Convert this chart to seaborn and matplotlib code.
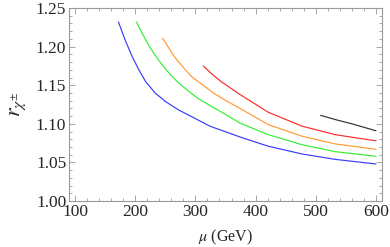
import numpy as np
import pandas as pd
import matplotlib
matplotlib.use("Agg")
import matplotlib.pyplot as plt
from matplotlib.ticker import MultipleLocator
import seaborn as sns

# values
mu_blue = [172, 184, 195, 206, 217, 233, 250, 272, 297, 324, 374, 421, 477, 532, 600]
r_blue = [1.232, 1.207, 1.187, 1.170, 1.155, 1.140, 1.129, 1.118, 1.108, 1.097, 1.083, 1.071, 1.061, 1.054, 1.048]
mu_green = [202, 211, 222, 233, 245, 258, 272, 289, 306, 328, 344, 374, 421, 477, 532, 600]
r_green = [1.232, 1.218, 1.202, 1.189, 1.176, 1.164, 1.153, 1.142, 1.132, 1.122, 1.115, 1.101, 1.086, 1.073, 1.064, 1.058]
mu_orange = [245, 256, 267, 281, 294, 311, 328, 344, 374, 421, 477, 532, 600]
r_orange = [1.211, 1.198, 1.185, 1.172, 1.161, 1.151, 1.141, 1.133, 1.120, 1.099, 1.084, 1.074, 1.067]
mu_red = [313, 328, 344, 374, 421, 477, 532, 600]
r_red = [1.175, 1.164, 1.154, 1.138, 1.115, 1.097, 1.086, 1.078]
mu_black = [508, 535, 560, 600]
r_black = [1.111, 1.105, 1.100, 1.091]

names = ["blue", "green", "orange", "red", "black"]
colors = ["#3a3aff", "#33ee33", "#ff9a30", "#ff2a2a", "#333333"]

frames = []
for name, mu, r in zip(names,
                       [mu_blue, mu_green, mu_orange, mu_red, mu_black],
                       [r_blue, r_green, r_orange, r_red, r_black]):
    frames.append(pd.DataFrame({"mu": mu, "r": r, "curve": name}))
df = pd.concat(frames, ignore_index=True)

sns.set_style("ticks")
plt.rcParams["font.family"] = ["Liberation Serif", "DejaVu Serif"]
plt.rcParams["mathtext.fontset"] = "stix"

fig = plt.figure(figsize=(3.9, 2.47), dpi=100)
ax = fig.add_axes([0.177, 0.186, 0.8025, 0.7816])

sns.lineplot(data=df, x="mu", y="r", hue="curve", palette=dict(zip(names, colors)),
             linewidth=0.85, legend=False, ax=ax, sort=True)

ax.set_xlim(90, 610)
ax.set_ylim(1.0, 1.25)
ax.xaxis.set_major_locator(MultipleLocator(100))
ax.xaxis.set_minor_locator(MultipleLocator(20))
ax.yaxis.set_major_locator(MultipleLocator(0.05))
ax.yaxis.set_minor_locator(MultipleLocator(0.01))
ax.yaxis.set_major_formatter(matplotlib.ticker.FormatStrFormatter("%.2f"))

for s in ax.spines.values():
    s.set_color("#999999")
    s.set_linewidth(0.8)
ax.tick_params(which="both", direction="in", top=True, right=True, color="#999999", width=0.6)
ax.tick_params(which="major", length=4, labelsize=12.5, pad=2)
ax.tick_params(which="minor", length=2)

ax.set_xlabel(r"$\mu$ (GeV)", fontsize=11.5, labelpad=6)
ax.set_ylabel(r"$r_{\chi^{\pm}}$", fontsize=16, labelpad=6)

fig.savefig("out.png", dpi=100)
